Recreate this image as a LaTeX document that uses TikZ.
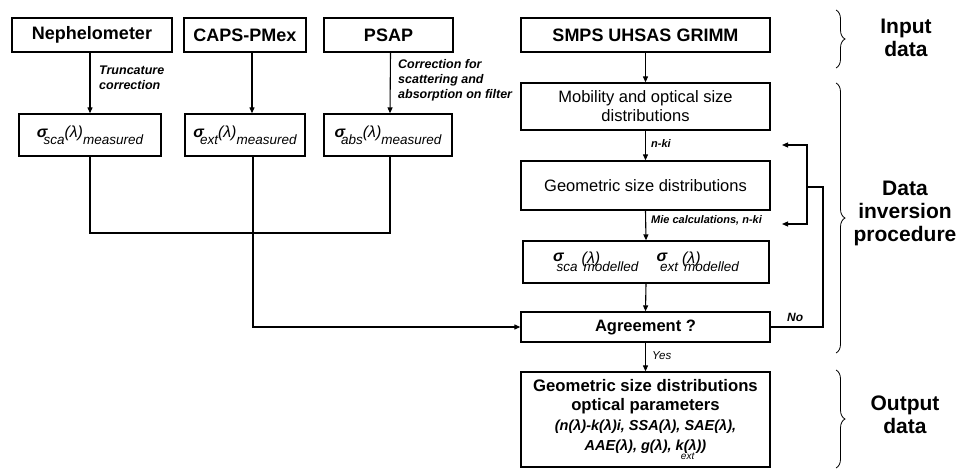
\documentclass[tikz,border=0pt]{standalone}
\usepackage{fontspec}
\setmainfont{Liberation Sans}
\usetikzlibrary{arrows.meta,decorations.pathreplacing}
\newcommand{\fs}[2][0]{\fontsize{#2}{#2}\selectfont}
\newcommand{\sgm}[2]{{\itshape\fs{16}{\bfseries σ}\hspace{-4pt}\raisebox{-7pt}{\fs{13.5}#1}(λ)\raisebox{-7pt}{\fs{13.5}#2}}}
\newcommand{\sgmod}[1]{{\itshape\fs{16}{\bfseries σ}\hspace{-7pt}\raisebox{-10pt}{\fs{13.5}#1}\hspace{4pt}\rlap{\raisebox{-2pt}{(λ)}}\hspace{2pt}\raisebox{-10pt}{\fs{13.5}modelled}}}
\begin{document}
\begin{tikzpicture}[x=1pt,y=-1pt,
  box/.style={draw,line width=1.3pt,rectangle,inner sep=0pt,align=center},
  topbox/.style={box,minimum height=34pt,font=\bfseries\fontsize{18}{20}\selectfont},
  arr/.style={line width=1.1pt,-{Triangle[length=6pt,width=5pt]}},
  ln/.style={line width=1.1pt},
  lab/.style={font=\bfseries\itshape\fontsize{12.5}{15}\selectfont, inner sep=0pt, align=left, anchor=west},
  bracestyle/.style={decorate,decoration={brace,amplitude=9pt},line width=0.8pt},
  side/.style={font=\bfseries\fontsize{21}{23}\selectfont, align=center, inner sep=0pt}
]
\useasboundingbox (0,0) rectangle (959,471);
% top boxes
\node[topbox,minimum width=160pt] (neph) at (92,35) {Nephelometer};
\node[topbox,minimum width=122pt] (caps) at (245,35) {CAPS-PMex};
\node[topbox,minimum width=129pt] (psap) at (388.5,35) {PSAP};
\node[topbox,minimum width=249pt] (smps) at (645.5,35) {SMPS UHSAS GRIMM};
% measured boxes
\node[box,minimum width=142pt,minimum height=42pt] (msca) at (90,135) {\sgm{sca}{measured}};
\node[box,minimum width=120pt,minimum height=42pt] (mext) at (245,135) {\sgm{ext}{measured}};
\node[box,minimum width=128pt,minimum height=42pt] (mabs) at (388,135) {\sgm{abs}{measured}};
% right column
\node[box,minimum width=249pt,minimum height=47pt,font=\fontsize{16.5}{19}\selectfont] (mob) at (645.5,106.5) {Mobility and optical size\\distributions};
\node[box,minimum width=249pt,minimum height=49pt,font=\fontsize{16.5}{19}\selectfont] (geo) at (645.5,185.5) {Geometric size distributions};
\node[box,minimum width=246pt,minimum height=42pt] (mod) at (646,262) {\sgmod{sca}\hspace{18pt}\sgmod{ext}};
\node[box,minimum width=249pt,minimum height=30pt,font=\bfseries\fontsize{16.5}{19}\selectfont] (agr) at (645.5,327) {Agreement ?};
\node[box,minimum width=249pt,minimum height=95pt,font=\bfseries\fontsize{16.7}{19.5}\selectfont] (out) at (645.5,419.5)
  {Geometric size distributions\\optical parameters\\{\itshape\fs{14.5}(n(λ)-k(λ)i, SSA(λ), SAE(λ),}\\[1pt]{\itshape\fs{14.5}AAE(λ), g(λ), k(λ))\llap{\raisebox{-9pt}{\normalfont\itshape\fs{10}ext}\hspace{12pt}}}};
% arrows top
\draw[arr] (msca.north |- neph.south) -- (msca.north);
\draw[arr] ([xshift=7pt]caps.south) -- ([xshift=7pt]mext.north);
\draw[arr] ([xshift=2pt]psap.south) -- ([xshift=2pt]mabs.north);
\node[lab] (trl) at (99,77.5) {Truncature\\correction};
\node[lab] (cfl) at (398,80) {Correction for\\scattering and\\absorption on filter};
% right column arrows
\draw[arr] (smps.south) -- (mob.north);
\draw[arr] (mob.south) -- (geo.north);
\node[lab,font=\bfseries\itshape\fontsize{11}{13}\selectfont] (nki) at (651,144) {n-ki};
\draw[arr] (geo.south) -- (mod.north);
\node[lab,font=\bfseries\itshape\fontsize{11}{13}\selectfont] (miel) at (651,220) {Mie calculations, n-ki};
\draw[arr] (mod.south) -- (agr.north);
\draw[arr] (agr.south) -- (out.north);
\node[lab,font=\itshape\fontsize{11.5}{13}\selectfont] (yes) at (652,356) {Yes};
% measured joins
\coordinate (j) at (253,233);
\draw[ln] (msca.south) |- (j);
\draw[ln] ([xshift=2pt]mabs.south) |- (j);
\draw[arr] ([xshift=8pt]mext.south) |- (agr.west);
% loop
\coordinate (lp) at (823,187);
\coordinate (bk) at (807,187);
\coordinate (t1) at (782,145);
\coordinate (t2) at (782,224);
\coordinate (b2) at (807,224);
\draw[ln] (agr.east) -| (lp) -- (bk);
\draw[ln,{Triangle[length=6pt,width=5pt]}-{Triangle[length=6pt,width=5pt]}] (t1) -| (b2) -- (t2);
\node[lab,font=\bfseries\itshape\fontsize{12}{13}\selectfont] (no) at (787,317) {No};
% braces
\draw[bracestyle] (836,10) -- (836,68);
\draw[bracestyle] (836,83) -- (836,353);
\draw[bracestyle] (836,370) -- (836,468);
\node[side] (inp) at (906,38) {Input\\data};
\node[side] (dip) at (905,213) {Data\\inversion\\procedure};
\node[side] (odt) at (905,415) {Output\\data};
\end{tikzpicture}
\end{document}
